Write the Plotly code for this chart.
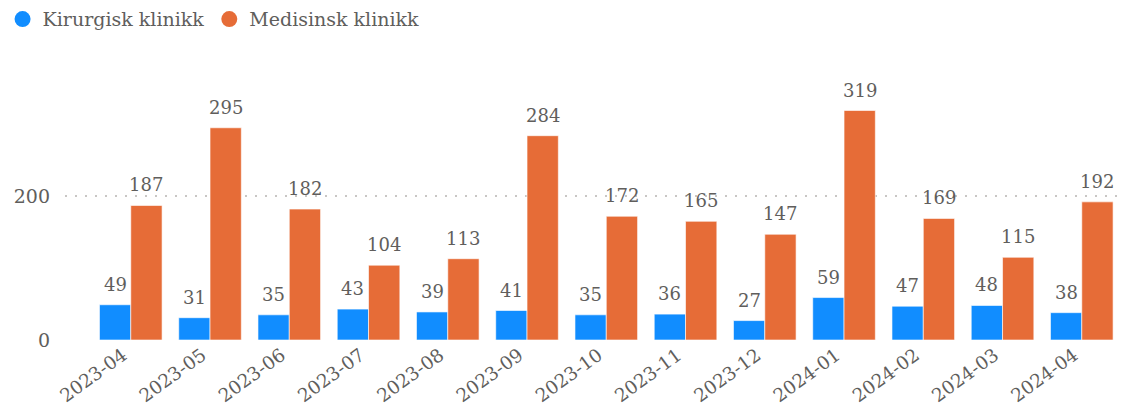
import plotly.graph_objects as go

# Data
maaneder = ['2023-04', '2023-05', '2023-06', '2023-07', '2023-08', '2023-09', '2023-10',
            '2023-11', '2023-12', '2024-01', '2024-02', '2024-03', '2024-04']
kirurgisk = [49, 31, 35, 43, 39, 41, 35, 36, 27, 59, 47, 48, 38]
medisinsk = [187, 295, 182, 104, 113, 284, 172, 165, 147, 319, 169, 115, 192]

BLAA = '#118DFF'
ORANSJE = '#E66C37'
TEKST = '#605E5C'
FONT = 'DejaVu Serif'

fig = go.Figure()

fig.add_trace(go.Bar(
    x=maaneder, y=kirurgisk, name='Kirurgisk klinikk',
    marker=dict(color=BLAA, line=dict(color='rgba(255,255,255,0.6)', width=1)),
    showlegend=False
))
fig.add_trace(go.Bar(
    x=maaneder, y=medisinsk, name='Medisinsk klinikk',
    marker=dict(color=ORANSJE, line=dict(color='rgba(255,255,255,0.6)', width=1)),
    showlegend=False
))

# legend with round markers
fig.add_trace(go.Scatter(x=[None], y=[None], mode='markers', name='Kirurgisk klinikk',
                         marker=dict(color=BLAA, size=19, symbol='circle')))
fig.add_trace(go.Scatter(x=[None], y=[None], mode='markers', name='Medisinsk klinikk',
                         marker=dict(color=ORANSJE, size=19, symbol='circle')))

# Data labels
halv = 15.6
for m, k, md in zip(maaneder, kirurgisk, medisinsk):
    fig.add_annotation(x=m, y=k, text=str(k), showarrow=False, xshift=-halv,
                       yanchor='bottom', yshift=8, font=dict(size=18, color=TEKST, family=FONT))
    fig.add_annotation(x=m, y=md, text=str(md), showarrow=False, xshift=halv,
                       yanchor='bottom', yshift=8, font=dict(size=18, color=TEKST, family=FONT))

fig.update_layout(
    barmode='group',
    bargap=0.21,
    bargroupgap=0,
    width=1135,
    height=408,
    margin=dict(l=57, r=20, t=91, b=76, autoexpand=False),
    plot_bgcolor='white',
    paper_bgcolor='white',
    font=dict(family=FONT, size=19, color=TEKST),
    legend=dict(orientation='h', x=-0.059, xanchor='left', y=1.41, yanchor='top',
                font=dict(size=19, color=TEKST), itemwidth=30, tracegroupgap=0),
)

fig.update_xaxes(type='category', range=[-0.83, 12.52], tickangle=-36, automargin=False,
                 showgrid=False, showline=False, ticks='', ticklabelshift=-8,
                 tickfont=dict(size=18.5, color=TEKST))
fig.update_yaxes(range=[0, 335], dtick=200, showgrid=True, gridcolor='#C8C6C4',
                 griddash='2px,8px', gridwidth=1.5, zeroline=False, showline=False,
                 automargin=False, ticklabelstandoff=14, tickfont=dict(size=19, color=TEKST))

fig.write_html('out.html')
